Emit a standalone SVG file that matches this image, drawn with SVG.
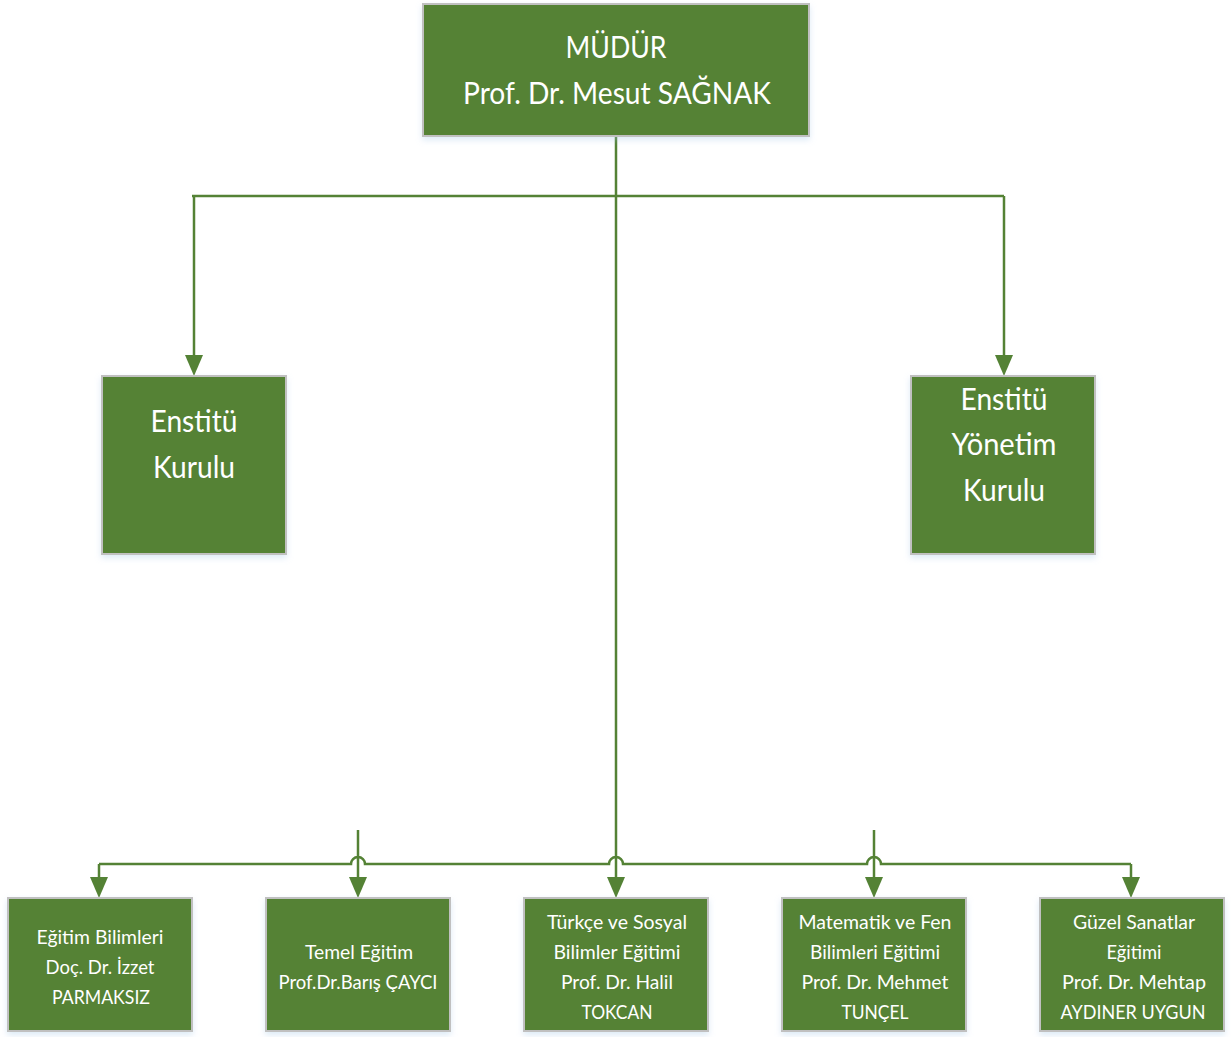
<svg xmlns="http://www.w3.org/2000/svg" width="1231" height="1037" viewBox="0 0 1231 1037">
<style>
.box{fill:#548235;stroke:#c0c0c0;stroke-width:2}
.t{font-family:Lato,"Liberation Sans",sans-serif;fill:#ffffff;text-anchor:middle}
.big{font-size:30px}
.sm{font-size:20px}
.c{fill:none;stroke:#548235;stroke-width:2.5}
</style>
<defs>
<marker id="ah" markerUnits="userSpaceOnUse" markerWidth="22" markerHeight="19" viewBox="0 -9.5 22 19" refX="0" refY="0" orient="auto">
<path d="M0,-9 L21,0 L0,9 z" fill="#548235"/>
</marker>
<filter id="sh" x="-10%" y="-10%" width="120%" height="130%">
<feDropShadow dx="0" dy="3" stdDeviation="3" flood-color="#9dc3e6" flood-opacity="0.35"/>
</filter>
</defs>
<rect width="1231" height="1037" fill="#ffffff"/>
<g id="connectors">
<path class="c" d="M616,136 V877" marker-end="url(#ah)"/>
<path class="c" d="M192,196 H1004"/>
<path class="c" d="M194,196 V355" marker-end="url(#ah)"/>
<path class="c" d="M1004,196 V355" marker-end="url(#ah)"/>
<path class="c" d="M99,864 H351 A7,7 0 0 1 365,864 H609 A7,7 0 0 1 623,864 H867 A7,7 0 0 1 881,864 H1131"/>
<path class="c" d="M99,864 V877" marker-end="url(#ah)"/>
<path class="c" d="M358,830 V877" marker-end="url(#ah)"/>
<path class="c" d="M874,830 V877" marker-end="url(#ah)"/>
<path class="c" d="M1131,864 V877" marker-end="url(#ah)"/>
</g>
<g id="mudur">
<rect class="box" x="423" y="4" width="386" height="132" filter="url(#sh)"/>
<text class="t big" x="616" y="58" textLength="101" lengthAdjust="spacingAndGlyphs">MÜDÜR</text>
<text class="t big" x="617" y="104" textLength="308" lengthAdjust="spacingAndGlyphs">Prof. Dr. Mesut SAĞNAK</text>
</g>
<g id="enstitu-kurulu">
<rect class="box" x="102" y="376" width="184" height="178" filter="url(#sh)"/>
<text class="t big" x="194" y="432" textLength="87" lengthAdjust="spacingAndGlyphs">Enstitü</text>
<text class="t big" x="194" y="478" textLength="82" lengthAdjust="spacingAndGlyphs">Kurulu</text>
</g>
<g id="enstitu-yonetim-kurulu">
<rect class="box" x="911" y="376" width="184" height="178" filter="url(#sh)"/>
<text class="t big" x="1004" y="410" textLength="87" lengthAdjust="spacingAndGlyphs">Enstitü</text>
<text class="t big" x="1004" y="455" textLength="105" lengthAdjust="spacingAndGlyphs">Yönetim</text>
<text class="t big" x="1004" y="501" textLength="82" lengthAdjust="spacingAndGlyphs">Kurulu</text>
</g>
<g id="egitim-bilimleri">
<rect class="box" x="8" y="898" width="184" height="133" filter="url(#sh)"/>
<text class="t sm" x="100" y="944" textLength="127" lengthAdjust="spacingAndGlyphs">Eğitim Bilimleri</text>
<text class="t sm" x="100" y="974" textLength="109" lengthAdjust="spacingAndGlyphs">Doç. Dr. İzzet</text>
<text class="t sm" x="101" y="1004" textLength="98" lengthAdjust="spacingAndGlyphs">PARMAKSIZ</text>
</g>
<g id="temel-egitim">
<rect class="box" x="266" y="898" width="184" height="133" filter="url(#sh)"/>
<text class="t sm" x="359" y="959" textLength="108" lengthAdjust="spacingAndGlyphs">Temel Eğitim</text>
<text class="t sm" x="358" y="989" textLength="159" lengthAdjust="spacingAndGlyphs">Prof.Dr.Barış ÇAYCI</text>
</g>
<g id="turkce-sosyal">
<rect class="box" x="524" y="898" width="184" height="133" filter="url(#sh)"/>
<text class="t sm" x="617" y="929" textLength="140" lengthAdjust="spacingAndGlyphs">Türkçe ve Sosyal</text>
<text class="t sm" x="617" y="959" textLength="127" lengthAdjust="spacingAndGlyphs">Bilimler Eğitimi</text>
<text class="t sm" x="617" y="989" textLength="112" lengthAdjust="spacingAndGlyphs">Prof. Dr. Halil</text>
<text class="t sm" x="617" y="1019" textLength="71" lengthAdjust="spacingAndGlyphs">TOKCAN</text>
</g>
<g id="matematik-fen">
<rect class="box" x="782" y="898" width="184" height="133" filter="url(#sh)"/>
<text class="t sm" x="875" y="929" textLength="153" lengthAdjust="spacingAndGlyphs">Matematik ve Fen</text>
<text class="t sm" x="875" y="959" textLength="130" lengthAdjust="spacingAndGlyphs">Bilimleri Eğitimi</text>
<text class="t sm" x="875" y="989" textLength="147" lengthAdjust="spacingAndGlyphs">Prof. Dr. Mehmet</text>
<text class="t sm" x="875" y="1019" textLength="67" lengthAdjust="spacingAndGlyphs">TUNÇEL</text>
</g>
<g id="guzel-sanatlar">
<rect class="box" x="1040" y="898" width="184" height="133" filter="url(#sh)"/>
<text class="t sm" x="1134" y="929" textLength="122" lengthAdjust="spacingAndGlyphs">Güzel Sanatlar</text>
<text class="t sm" x="1134" y="959" textLength="55" lengthAdjust="spacingAndGlyphs">Eğitimi</text>
<text class="t sm" x="1134" y="989" textLength="144" lengthAdjust="spacingAndGlyphs">Prof. Dr. Mehtap</text>
<text class="t sm" x="1133" y="1019" textLength="145" lengthAdjust="spacingAndGlyphs">AYDINER UYGUN</text>
</g>
</svg>
